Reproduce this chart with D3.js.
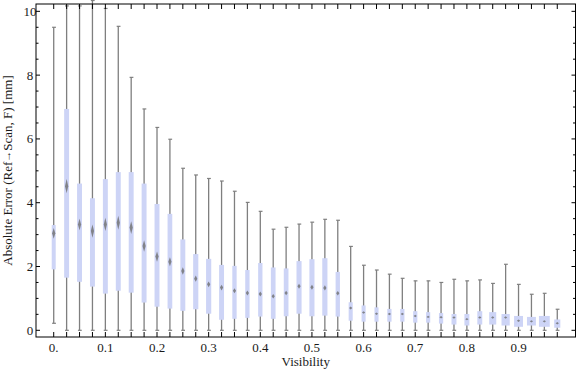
<!DOCTYPE html>
<html lang="en">
<head>
<meta charset="UTF-8">
<title>Absolute Error vs Visibility</title>
<script src="https://cdn.jsdelivr.net/npm/d3@7"></script>
<style>
  body { margin: 0; background: #fff; }
</style>
</head>
<body>
<svg width="576" height="377" id="chart"></svg>
<script>
// visibility bins (box centres)
const visibility = d3.range(40).map(i => +(i * 0.025).toFixed(3));

// box-whisker statistics per bin [mm]
const whiskerLow = [0.22, 0, 0, 0, 0, 0, 0, 0, 0, 0, 0, 0, 0, 0, 0, 0, 0, 0, 0, 0,
                    0, 0, 0, 0, 0, 0, 0, 0, 0, 0, 0, 0, 0, 0, 0, 0, 0, 0, 0, 0];
const quartile1 = [1.91, 1.65, 1.52, 1.37, 1.15, 1.24, 1.18, 0.87, 0.74, 0.68,
                   0.61, 0.66, 0.52, 0.33, 0.36, 0.39, 0.43, 0.36, 0.44, 0.52,
                   0.44, 0.46, 0.43, 0.30, 0.27, 0.27, 0.27, 0.27, 0.24, 0.24,
                   0.21, 0.18, 0.15, 0.18, 0.18, 0.15, 0.11, 0.15, 0.11, 0.08];
const medians   = [3.04, 4.52, 3.32, 3.11, 3.32, 3.37, 3.22, 2.64, 2.31, 2.15,
                   1.86, 1.62, 1.44, 1.34, 1.24, 1.17, 1.14, 1.07, 1.17, 1.38,
                   1.35, 1.33, 1.16, 0.70, 0.56, 0.52, 0.51, 0.51, 0.45, 0.42,
                   0.41, 0.40, 0.35, 0.40, 0.40, 0.40, 0.30, 0.28, 0.28, 0.22];
const quartile3 = [3.30, 6.94, 4.60, 4.14, 4.74, 4.96, 4.96, 4.60, 3.96, 3.65,
                   2.85, 2.39, 2.24, 2.05, 2.02, 1.89, 2.11, 1.97, 1.94, 2.17,
                   2.23, 2.26, 1.83, 0.88, 0.78, 0.72, 0.67, 0.67, 0.60, 0.57,
                   0.54, 0.51, 0.51, 0.60, 0.57, 0.51, 0.45, 0.42, 0.45, 0.34];
const whiskerHigh = [9.50, 10.17, 10.17, 10.34, 10.09, 9.53, 7.93, 6.94, 6.36, 5.99,
                     5.08, 4.87, 4.76, 4.68, 4.36, 4.01, 3.73, 3.17, 3.23, 3.33,
                     3.39, 3.48, 3.45, 2.63, 2.04, 1.89, 1.76, 1.63, 1.55, 1.55,
                     1.50, 1.60, 1.55, 1.58, 1.47, 2.07, 1.44, 1.13, 1.16, 0.66];
// median confidence (notch half-height)
const medianCI  = [0.17, 0.22, 0.18, 0.21, 0.21, 0.22, 0.20, 0.18, 0.16, 0.14,
                   0.12, 0.10, 0.09, 0.09, 0.08, 0.08, 0.08, 0.07, 0.07, 0.08,
                   0.08, 0.08, 0.07, 0.05, 0.04, 0.04, 0.03, 0.03, 0.03, 0.03,
                   0.03, 0.03, 0.03, 0.03, 0.03, 0.03, 0.03, 0.03, 0.03, 0.03];
// relative bin weight (box width)
const binWeight = [0.85, 1.05, 1.05, 1.05, 1.05, 1.05, 1.05, 1.05, 1.05, 1.0,
                   1.05, 1.1, 1.1, 1.05, 0.92, 0.92, 0.92, 1.0, 1.0, 1.08,
                   1.08, 1.1, 0.92, 0.86, 0.86, 0.86, 0.9, 0.9, 0.9, 0.88,
                   0.9, 1.05, 1.05, 1.05, 1.5, 1.75, 1.9, 1.9, 2.3, 1.3];

const xLabelTicks = [0, 0.1, 0.2, 0.3, 0.4, 0.5, 0.6, 0.7, 0.8, 0.9];
const yLabelTicks = [0, 2, 4, 6, 8, 10];
const yMinorTicks = d3.range(0, 10.01, 0.5);

const FONT = "'Liberation Serif', 'Times New Roman', 'DejaVu Serif', serif";
const svg = d3.select("#chart");
const pL = 36, pR = 575.5, pT = 4, pB = 337;

const x = d3.scaleLinear().domain([-0.0343, 1.0103]).range([pL, pR]);
const y = d3.scaleLinear().domain([-0.21, 10.23]).range([pB, pT]);
const w = d3.scaleLinear().domain([0, 1]).range([0, 4.7]);

const data = visibility.map((v, i) => ({
  v, lo: whiskerLow[i], q1: quartile1[i], med: medians[i], q3: quartile3[i],
  hi: whiskerHigh[i], ci: medianCI[i], wt: binWeight[i]
}));

// whiskers
const g = svg.append("g");
g.selectAll("line.whisker").data(data).enter().append("line")
  .attr("x1", d => x(d.v)).attr("x2", d => x(d.v))
  .attr("y1", d => y(d.lo)).attr("y2", d => y(d.hi))
  .attr("stroke", "#7f7f7f").attr("stroke-width", 1.3);
["lo", "hi"].forEach(k => {
  g.selectAll("line.cap-" + k).data(data).enter().append("line")
    .attr("x1", d => x(d.v) - 1.6).attr("x2", d => x(d.v) + 2.2)
    .attr("y1", d => y(d[k])).attr("y2", d => y(d[k]))
    .attr("stroke", "#7f7f7f").attr("stroke-width", 1.2);
});

// boxes
g.selectAll("rect.box").data(data).enter().append("rect")
  .attr("x", d => x(d.v) - w(d.wt) / 2)
  .attr("width", d => w(d.wt))
  .attr("y", d => y(d.q3))
  .attr("height", d => y(d.q1) - y(d.q3))
  .attr("fill", "#cdd4f6");

// median notches
g.selectAll("path.median").data(data).enter().append("path")
  .attr("d", d => {
    const cx = x(d.v), cy = y(d.med);
    const h = Math.max(1.2, y(d.med - d.ci) - cy);
    const hw = Math.min(1.6, w(d.wt) / 2);
    return `M${cx},${cy - h}L${cx + hw},${cy}L${cx},${cy + h}L${cx - hw},${cy}Z`;
  })
  .attr("fill", "#6e6e6e").attr("opacity", 0.8);

// frame
svg.append("rect")
  .attr("x", pL).attr("y", pT)
  .attr("width", pR - pL).attr("height", pB - pT)
  .attr("fill", "none").attr("stroke", "#000").attr("stroke-width", 1);

// x ticks (each bin, top and bottom)
svg.selectAll("line.xt").data(visibility).enter().append("line")
  .attr("x1", d => x(d)).attr("x2", d => x(d))
  .attr("y1", pB).attr("y2", pB - 5)
  .attr("stroke", "#000");
svg.selectAll("line.xtt").data(visibility).enter().append("line")
  .attr("x1", d => x(d)).attr("x2", d => x(d))
  .attr("y1", pT).attr("y2", pT + 5)
  .attr("stroke", "#000");
svg.selectAll("text.xl").data(xLabelTicks).enter().append("text")
  .attr("x", d => x(d)).attr("y", 352)
  .attr("text-anchor", "middle").attr("font-family", FONT)
  .attr("font-size", 13).attr("fill", "#1a1a1a")
  .text(d => d === 0 ? "0." : d3.format(".1f")(d));

// y ticks both sides
yMinorTicks.forEach(t => {
  const len = (t % 2 === 0) ? 4 : 2.5;
  svg.append("line").attr("x1", pL).attr("x2", pL + len)
    .attr("y1", y(t)).attr("y2", y(t)).attr("stroke", "#000");
  svg.append("line").attr("x1", pR).attr("x2", pR - len)
    .attr("y1", y(t)).attr("y2", y(t)).attr("stroke", "#000");
});
svg.selectAll("text.yl").data(yLabelTicks).enter().append("text")
  .attr("x", 30).attr("y", d => y(d) + 4.5)
  .attr("text-anchor", "middle").attr("font-family", FONT)
  .attr("font-size", 13).attr("fill", "#1a1a1a")
  .text(d => d);

// axis titles
svg.append("text")
  .attr("x", (pL + pR) / 2).attr("y", 366)
  .attr("text-anchor", "middle").attr("font-family", FONT)
  .attr("font-size", 13).attr("fill", "#1a1a1a")
  .text("Visibility");
const yTitle = svg.append("text")
  .attr("transform", `translate(12,${(pT + pB) / 2}) rotate(-90)`)
  .attr("text-anchor", "middle").attr("font-family", FONT)
  .attr("font-size", 13).attr("fill", "#1a1a1a");
yTitle.append("tspan").text("Absolute Error (Ref");
yTitle.append("tspan").attr("font-size", 11).attr("dy", -1.5).text("\u2192");
yTitle.append("tspan").attr("dy", 1.5).text("Scan, F) [mm]");
</script>
</body>
</html>
